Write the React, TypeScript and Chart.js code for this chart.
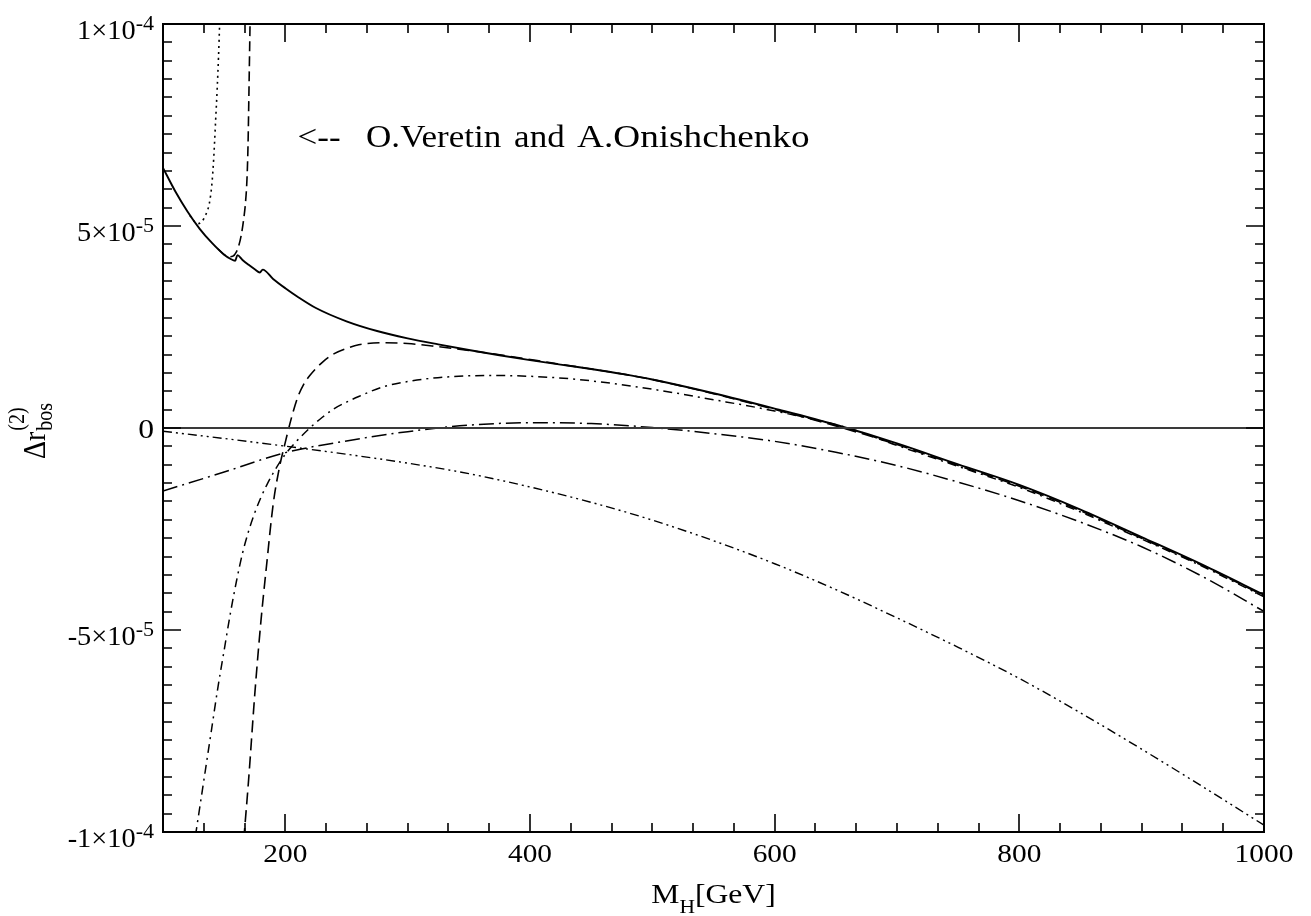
import { useEffect, useRef } from "react";
import { Chart, registerables } from "chart.js";

Chart.register(...registerables);

// ---- data (values in units of 1e-6) ----
const fullMass = [100, 110, 120, 130, 140, 150, 155, 159, 160.8, 165, 170, 175, 179.2, 181.5, 190, 200, 210, 225, 250, 275, 300, 325, 350, 375, 400, 425, 450, 475, 500, 550, 600, 650, 700, 750, 800, 850, 900, 950, 1000];
const fullValues = [64.4, 58.6, 53.6, 49.3, 45.8, 42.9, 41.9, 41.4, 42.8, 41.6, 40.4, 39.3, 38.5, 39.2, 36.9, 34.6, 32.5, 29.7, 26.4, 24.0, 22.2, 20.7, 19.3, 18.0, 16.8, 15.7, 14.6, 13.4, 12.0, 8.6, 4.8, 0.8, -3.8, -9.0, -14.1, -20.2, -27.0, -33.9, -41.3];

const heavyMass = [166, 170, 175, 180, 185, 190, 195, 200, 205, 210, 215, 220, 230, 240, 250, 260, 280, 300, 320, 350, 380, 420, 450, 475, 500, 550, 600, 650, 700, 750, 800, 850, 900, 950, 1000];
const heavyValues = [-102, -87, -66, -48, -33, -19, -10, -3.5, 2.5, 7.5, 10.8, 13.0, 16.2, 18.4, 19.7, 20.6, 21.1, 20.9, 20.3, 19.2, 17.9, 16.0, 14.6, 13.4, 12.0, 8.5, 4.6, 0.5, -4.1, -9.3, -14.4, -20.5, -27.3, -34.1, -41.5];

const lightDashMass = [145, 150, 154, 157, 160, 162, 164, 166, 167.5, 168.7, 169.5, 170.3, 171.2];
const lightDashValues = [44.3, 42.9, 42.4, 42.5, 43.6, 45.2, 47.8, 51.8, 56, 62, 70, 84, 101];

const lightDotMass = [122, 126, 129, 132, 135, 138, 140, 141.5, 143, 144.3, 145.4, 146.4];
const lightDotValues = [52.6, 51.0, 50.6, 51.2, 52.8, 55.8, 60.5, 67, 76, 84, 92, 101];

const dashDotMass = [126.5, 130, 135, 140, 145, 150, 155, 160, 165, 170, 175, 180, 185, 190, 195, 200, 210, 220, 230, 240, 250, 260, 280, 300, 330, 370, 400, 440, 500, 550, 600, 660, 700, 750, 800, 850, 900, 950, 1000];
const dashDotValues = [-101, -94, -84, -74, -64, -55, -46, -38, -31, -25.5, -21, -17.2, -14, -11.2, -8.7, -6.5, -3, 0, 2.6, 4.8, 6.4, 7.8, 10.2, 11.5, 12.6, 13.0, 12.8, 12.0, 9.6, 7.0, 4.2, 0, -4.3, -9.5, -14.7, -20.8, -27.5, -34.3, -41.8];

const longDashDotMass = [100, 150, 200, 250, 300, 350, 400, 450, 500, 550, 600, 650, 700, 750, 800, 850, 900, 950, 1000];
const longDashDotValues = [-15.6, -10.9, -6.1, -3.2, -0.9, 0.7, 1.3, 1.1, 0.1, -1.4, -3.3, -6.0, -9.3, -13.4, -18.0, -23.3, -29.4, -36.8, -45.4];

const dashDotDotMass = [100, 150, 200, 250, 300, 350, 400, 450, 500, 550, 600, 650, 700, 750, 800, 850, 900, 950, 1000];
const dashDotDotValues = [-0.8, -2.6, -4.5, -6.5, -8.7, -11.3, -14.6, -18.4, -22.8, -27.9, -33.6, -40.0, -47.0, -54.3, -62.0, -70.5, -79.5, -88.8, -98.3];

const zeroMass = [100, 1000];
const zeroValues = [0, 0];

const xMin = 100;
const xMax = 1000;
const yMin = -100;
const yMax = 100;
const xMajorTicks = [200, 400, 600, 800, 1000];
const xTickLabels = ["200", "400", "600", "800", "1000"];
const xMinorPerMajor = 6;
const yMajorTicks = [-100, -50, 0, 50, 100];
const yTickMantissa = ["-1\u00d710", "-5\u00d710", "0", "5\u00d710", "1\u00d710"];
const yTickExponent = ["-4", "-5", "", "-5", "-4"];
const yMinorPerMajor = 11;

const annotationParts = ["<--", "O.Veretin", "and", "A.Onishchenko"];
const annotationMass = [210, 266, 387, 438.5];
const annotationValue = 69.5;

const SERIF = '"Liberation Serif", "Times New Roman", serif';
const SX = 1.13;

function pts(xs: number[], ys: number[]) {
  return xs.map((x, i) => ({ x, y: ys[i] }));
}

function drawText(ctx: CanvasRenderingContext2D, s: string, x: number, y: number, size: number, sx = SX) {
  ctx.save();
  ctx.font = `${size}px ${SERIF}`;
  ctx.translate(x, y);
  ctx.scale(sx, 1);
  ctx.textAlign = "left";
  ctx.textBaseline = "alphabetic";
  ctx.fillText(s, 0, 0);
  ctx.restore();
}

function textW(ctx: CanvasRenderingContext2D, s: string, size: number, sx = SX) {
  ctx.save();
  ctx.font = `${size}px ${SERIF}`;
  const w = ctx.measureText(s).width * sx;
  ctx.restore();
  return w;
}

const decorPlugin = {
  id: "decor",
  afterDatasetsDraw(chart: any) {
    const ctx: CanvasRenderingContext2D = chart.ctx;
    const a = chart.chartArea;
    const xs = chart.scales.x;
    const ys = chart.scales.y;
    ctx.save();
    ctx.strokeStyle = "#000";
    ctx.fillStyle = "#000";
    ctx.lineWidth = 1.6;
    // x ticks
    const xStep = (xMajorTicks[1] - xMajorTicks[0]) / xMinorPerMajor;
    for (let k = 0; k <= (xMax - xMin) / xStep + 1e-6; k++) {
      const v = xMin + k * xStep;
      const major = xMajorTicks.some((m) => Math.abs(m - v) < 1e-6);
      const len = major ? 18 : 9;
      const px = Math.round(xs.getPixelForValue(v));
      ctx.beginPath();
      ctx.moveTo(px, a.bottom);
      ctx.lineTo(px, a.bottom - len);
      ctx.moveTo(px, a.top);
      ctx.lineTo(px, a.top + len);
      ctx.stroke();
    }
    const yStep = (yMajorTicks[1] - yMajorTicks[0]) / yMinorPerMajor;
    for (let k = 0; k <= (yMax - yMin) / yStep + 1e-6; k++) {
      const v = yMin + k * yStep;
      const major = yMajorTicks.some((m) => Math.abs(m - v) < 1e-6);
      const len = major ? 18 : 9;
      const py = Math.round(ys.getPixelForValue(v));
      ctx.beginPath();
      ctx.moveTo(a.left, py);
      ctx.lineTo(a.left + len, py);
      ctx.moveTo(a.right, py);
      ctx.lineTo(a.right - len, py);
      ctx.stroke();
    }
    // frame
    ctx.lineWidth = 2;
    ctx.strokeRect(a.left, a.top, a.right - a.left, a.bottom - a.top);

    // x tick labels
    xMajorTicks.forEach((v, i) => {
      const px = xs.getPixelForValue(v);
      const w = textW(ctx, xTickLabels[i], 26);
      drawText(ctx, xTickLabels[i], px - w / 2, a.bottom + 30, 26);
    });
    // y tick labels
    const rightEdge = a.left - 9;
    yMajorTicks.forEach((v, i) => {
      const py = ys.getPixelForValue(v);
      const mant = yTickMantissa[i];
      const ex = yTickExponent[i];
      if (!ex) {
        const w = textW(ctx, mant, 28);
        drawText(ctx, mant, rightEdge - w, py + 10, 28);
      } else {
        const we = textW(ctx, ex, 21, 1.05);
        const wm = textW(ctx, mant, 27, 1.05);
        drawText(ctx, ex, rightEdge - we, py + 6, 21, 1.05);
        drawText(ctx, mant, rightEdge - we - wm, py + 15, 27, 1.05);
      }
    });

    // x axis title  M_H[GeV]
    {
      const cx = (a.left + a.right) / 2;
      const wM = textW(ctx, "M", 28);
      const wH = textW(ctx, "H", 19);
      const wG = textW(ctx, "[GeV]", 28);
      const start = cx - (wM + wH + wG) / 2;
      const base = a.bottom + 71;
      drawText(ctx, "M", start, base, 28);
      drawText(ctx, "H", start + wM, base + 10, 19);
      drawText(ctx, "[GeV]", start + wM + wH, base, 28);
    }

    // y axis title  Δr^(2)_bos (rotated)
    {
      ctx.save();
      ctx.translate(45, 459);
      ctx.rotate(-Math.PI / 2);
      ctx.scale(1, SX);
      ctx.textBaseline = "alphabetic";
      ctx.font = `28px ${SERIF}`;
      ctx.fillText("\u0394r", 0, 0);
      const w1 = ctx.measureText("\u0394r").width;
      ctx.font = `20px ${SERIF}`;
      ctx.fillText("(2)", w1 + 1, -19);
      ctx.fillText("bos", w1 + 1, 6);
      ctx.restore();
    }

    // annotation
    const ay = ys.getPixelForValue(annotationValue);
    annotationParts.forEach((s, i) => {
      drawText(ctx, s, xs.getPixelForValue(annotationMass[i]), ay, 31, i === 3 ? 1.2 : SX);
    });
    ctx.restore();
  },
};

export default function App() {
  const ref = useRef<HTMLCanvasElement | null>(null);
  useEffect(() => {
    if (!ref.current) return;
    const base = {
      borderColor: "#000",
      pointRadius: 0,
      pointHoverRadius: 0,
      showLine: true,
      fill: false,
      cubicInterpolationMode: "monotone" as const,
      borderCapStyle: "butt" as const,
    };
    const chart = new Chart(ref.current, {
      type: "scatter",
      data: {
        datasets: [
          { ...base, label: "zero", data: pts(zeroMass, zeroValues), borderWidth: 2, borderColor: "#3a3a3a" },
          { ...base, label: "dash-dot-dot", data: pts(dashDotDotMass, dashDotDotValues), borderWidth: 1.4, borderDash: [9, 4, 2, 4, 2, 4] },
          { ...base, label: "long dash-dot", data: pts(longDashDotMass, longDashDotValues), borderWidth: 1.5, borderDash: [15, 5, 2, 5] },
          { ...base, label: "dash-dot", data: pts(dashDotMass, dashDotValues), borderWidth: 1.5, borderDash: [9, 5, 2, 5] },
          { ...base, label: "heavy", data: pts(heavyMass, heavyValues), borderWidth: 1.6, borderDash: [12, 6] },
          { ...base, label: "light dashed", data: pts(lightDashMass, lightDashValues), borderWidth: 1.6, borderDash: [10, 5] },
          { ...base, label: "light dotted", data: pts(lightDotMass, lightDotValues), borderWidth: 1.6, borderDash: [2, 4] },
          { ...base, label: "full", data: pts(fullMass, fullValues), borderWidth: 1.9 },
        ],
      },
      options: {
        animation: false,
        responsive: false,
        devicePixelRatio: 1,
        layout: { padding: { left: 163, top: 24, right: 47, bottom: 84 } },
        plugins: { legend: { display: false }, tooltip: { enabled: false }, title: { display: false } },
        events: [],
        scales: {
          x: { type: "linear", min: xMin, max: xMax, display: false },
          y: { type: "linear", min: yMin, max: yMax, display: false },
        },
      },
      plugins: [decorPlugin],
    });
    return () => chart.destroy();
  }, []);
  return (
    <div style={{ position: "absolute", left: 0, top: 0, width: 1311, height: 916, background: "#fff" }}>
      <canvas ref={ref} width={1311} height={916} style={{ display: "block" }} />
    </div>
  );
}
